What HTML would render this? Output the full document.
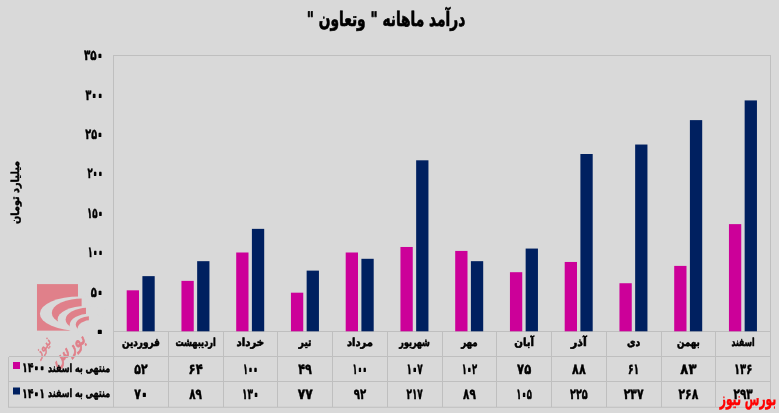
<!DOCTYPE html>
<html lang="fa"><head><meta charset="utf-8"><title>chart</title>
<style>html,body{margin:0;padding:0;background:#d9d9d9;overflow:hidden}svg{display:block;will-change:transform}text{text-rendering:geometricPrecision}</style></head>
<body>
<svg width="779" height="413" viewBox="0 0 779 413" font-family='"DejaVu Sans", "Liberation Sans", sans-serif' font-weight="bold" fill="#000">
<rect width="779" height="413" fill="#d9d9d9"/>
<g transform="translate(30,278) scale(0.14541)">
<rect x="48" y="42" width="282" height="320" fill="#e0808a"/>
<ellipse cx="340" cy="245" rx="272" ry="118" fill="#d9d9d9"/>
<clipPath id="c1"><rect x="0" y="0" width="355" height="500"/></clipPath>
<clipPath id="c2"><rect x="0" y="0" width="385" height="500"/></clipPath>
<clipPath id="c3"><rect x="0" y="0" width="405" height="500"/></clipPath>
<ellipse cx="370" cy="240" rx="220" ry="100" fill="#e0808a" clip-path="url(#c1)"/>
<ellipse cx="385" cy="285" rx="195" ry="92" fill="#d9d9d9"/>
<ellipse cx="400" cy="285" rx="155" ry="80" fill="#e0808a" clip-path="url(#c2)"/>
<ellipse cx="410" cy="325" rx="137" ry="80" fill="#d9d9d9"/>
<ellipse cx="420" cy="320" rx="105" ry="58" fill="#e0808a" clip-path="url(#c3)"/>
<ellipse cx="425" cy="345" rx="97" ry="56" fill="#d9d9d9"/>
</g>
<text transform="translate(71,354) rotate(-40) skewX(-15) scale(1,1.25)" font-size="16" font-weight="normal" text-anchor="middle" direction="rtl" fill="#e0808a" stroke="#e0808a" stroke-width="0.7">بورس</text>
<text transform="translate(45.5,350) rotate(-52) skewX(-15)" font-size="13" font-weight="normal" text-anchor="middle" direction="rtl" fill="#e0808a" stroke="#e0808a" stroke-width="0.4">نیوز</text>
<g stroke="#bfbfbf" stroke-width="1" fill="none" shape-rendering="crispEdges">
<path d="M113.5 407.25 V55.5 H770.5 V407.25"/>
<path d="M113.5 331.5 H770.5"/>
<path d="M8.5 356.5 H770.5 M8.5 381.5 H770.5 M8.5 356.5 V407.25"/>
<path d="M168.25 331.5 V407.25"/>
<path d="M223.00 331.5 V407.25"/>
<path d="M277.75 331.5 V407.25"/>
<path d="M332.50 331.5 V407.25"/>
<path d="M387.25 331.5 V407.25"/>
<path d="M442.00 331.5 V407.25"/>
<path d="M496.75 331.5 V407.25"/>
<path d="M551.50 331.5 V407.25"/>
<path d="M606.25 331.5 V407.25"/>
<path d="M661.00 331.5 V407.25"/>
<path d="M715.75 331.5 V407.25"/>
</g>
<path d="M8.0 407.25 H771.0" stroke="#bfbfbf" stroke-width="1" fill="none"/>
<rect x="126.70" y="290.32" width="12.30" height="40.98" fill="#cc0099"/>
<rect x="142.40" y="276.14" width="12.30" height="55.16" fill="#002060"/>
<rect x="181.45" y="280.87" width="12.30" height="50.43" fill="#cc0099"/>
<rect x="197.15" y="261.17" width="12.30" height="70.13" fill="#002060"/>
<rect x="236.20" y="252.50" width="12.30" height="78.80" fill="#cc0099"/>
<rect x="251.90" y="228.86" width="12.30" height="102.44" fill="#002060"/>
<rect x="290.95" y="292.69" width="12.30" height="38.61" fill="#cc0099"/>
<rect x="306.65" y="270.62" width="12.30" height="60.68" fill="#002060"/>
<rect x="345.70" y="252.50" width="12.30" height="78.80" fill="#cc0099"/>
<rect x="361.40" y="258.80" width="12.30" height="72.50" fill="#002060"/>
<rect x="400.45" y="246.98" width="12.30" height="84.32" fill="#cc0099"/>
<rect x="416.15" y="160.30" width="12.30" height="171.00" fill="#002060"/>
<rect x="455.20" y="250.92" width="12.30" height="80.38" fill="#cc0099"/>
<rect x="470.90" y="261.17" width="12.30" height="70.13" fill="#002060"/>
<rect x="509.95" y="272.20" width="12.30" height="59.10" fill="#cc0099"/>
<rect x="525.65" y="248.56" width="12.30" height="82.74" fill="#002060"/>
<rect x="564.70" y="261.96" width="12.30" height="69.34" fill="#cc0099"/>
<rect x="580.40" y="154.00" width="12.30" height="177.30" fill="#002060"/>
<rect x="619.45" y="283.23" width="12.30" height="48.07" fill="#cc0099"/>
<rect x="635.15" y="144.54" width="12.30" height="186.76" fill="#002060"/>
<rect x="674.20" y="265.90" width="12.30" height="65.40" fill="#cc0099"/>
<rect x="689.90" y="120.12" width="12.30" height="211.18" fill="#002060"/>
<rect x="728.95" y="224.13" width="12.30" height="107.17" fill="#cc0099"/>
<rect x="744.65" y="100.42" width="12.30" height="230.88" fill="#002060"/>
<text transform="translate(99.80,336.20) scale(0.9716,1)" font-size="14.5" text-anchor="middle" fill="#000" stroke="#000" stroke-width="0.45" stroke-linejoin="round"><tspan stroke-width="1.7">۰</tspan></text>
<text transform="translate(96.90,296.50) scale(0.6892,1)" font-size="14.5" text-anchor="middle" fill="#000" stroke="#000" stroke-width="0.45" stroke-linejoin="round">۵<tspan stroke-width="1.7">۰</tspan></text>
<text transform="translate(95.40,257.10) scale(0.5725,1)" font-size="14.5" text-anchor="middle" fill="#000" stroke="#000" stroke-width="0.45" stroke-linejoin="round">۱<tspan stroke-width="1.7">۰۰</tspan></text>
<text transform="translate(95.00,217.70) scale(0.6026,1)" font-size="14.5" text-anchor="middle" fill="#000" stroke="#000" stroke-width="0.45" stroke-linejoin="round">۱۵<tspan stroke-width="1.7">۰</tspan></text>
<text transform="translate(95.20,178.30) scale(0.5876,1)" font-size="14.5" text-anchor="middle" fill="#000" stroke="#000" stroke-width="0.45" stroke-linejoin="round">۲<tspan stroke-width="1.7">۰۰</tspan></text>
<text transform="translate(94.15,138.90) scale(0.6666,1)" font-size="14.5" text-anchor="middle" fill="#000" stroke="#000" stroke-width="0.45" stroke-linejoin="round">۲۵<tspan stroke-width="1.7">۰</tspan></text>
<text transform="translate(94.25,99.50) scale(0.6591,1)" font-size="14.5" text-anchor="middle" fill="#000" stroke="#000" stroke-width="0.45" stroke-linejoin="round">۳<tspan stroke-width="1.7">۰۰</tspan></text>
<text transform="translate(93.50,60.10) scale(0.7156,1)" font-size="14.5" text-anchor="middle" fill="#000" stroke="#000" stroke-width="0.45" stroke-linejoin="round">۳۵<tspan stroke-width="1.7">۰</tspan></text>
<text transform="translate(386.00,25.60) scale(0.6875,1)" font-size="20" text-anchor="middle" fill="#000" stroke="#000" stroke-width="0.7" stroke-linejoin="round" direction="rtl">درآمد ماهانه " وتعاون "</text>
<text transform="translate(18.60,192.40) rotate(-90) scale(0.8802,1)" font-size="11" text-anchor="middle" fill="#000" stroke="#000" stroke-width="0.45" stroke-linejoin="round" direction="rtl">میلیارد تومان</text>
<text transform="translate(140.88,346.40) scale(0.8104,1)" font-size="11" text-anchor="middle" fill="#000" stroke="#000" stroke-width="0.6" stroke-linejoin="round" direction="rtl">فروردین</text>
<text transform="translate(195.62,346.40) scale(0.7417,1)" font-size="11" text-anchor="middle" fill="#000" stroke="#000" stroke-width="0.6" stroke-linejoin="round" direction="rtl">اردیبهشت</text>
<text transform="translate(250.38,346.40) scale(0.9285,1)" font-size="11" text-anchor="middle" fill="#000" stroke="#000" stroke-width="0.6" stroke-linejoin="round" direction="rtl">خرداد</text>
<text transform="translate(305.12,346.40) scale(0.8213,1)" font-size="11" text-anchor="middle" fill="#000" stroke="#000" stroke-width="0.6" stroke-linejoin="round" direction="rtl">تیر</text>
<text transform="translate(359.88,346.40) scale(0.9054,1)" font-size="11" text-anchor="middle" fill="#000" stroke="#000" stroke-width="0.6" stroke-linejoin="round" direction="rtl">مرداد</text>
<text transform="translate(414.62,346.40) scale(0.7214,1)" font-size="11" text-anchor="middle" fill="#000" stroke="#000" stroke-width="0.6" stroke-linejoin="round" direction="rtl">شهریور</text>
<text transform="translate(469.38,346.40) scale(0.7841,1)" font-size="11" text-anchor="middle" fill="#000" stroke="#000" stroke-width="0.6" stroke-linejoin="round" direction="rtl">مهر</text>
<text transform="translate(524.12,346.40) scale(0.9243,1)" font-size="11" text-anchor="middle" fill="#000" stroke="#000" stroke-width="0.6" stroke-linejoin="round" direction="rtl">آبان</text>
<text transform="translate(578.88,346.40) scale(1.0032,1)" font-size="11" text-anchor="middle" fill="#000" stroke="#000" stroke-width="0.6" stroke-linejoin="round" direction="rtl">آذر</text>
<text transform="translate(633.62,346.40) scale(0.8393,1)" font-size="11" text-anchor="middle" fill="#000" stroke="#000" stroke-width="0.6" stroke-linejoin="round" direction="rtl">دی</text>
<text transform="translate(688.38,346.40) scale(0.7884,1)" font-size="11" text-anchor="middle" fill="#000" stroke="#000" stroke-width="0.6" stroke-linejoin="round" direction="rtl">بهمن</text>
<text transform="translate(743.12,346.40) scale(0.6956,1)" font-size="11" text-anchor="middle" fill="#000" stroke="#000" stroke-width="0.6" stroke-linejoin="round" direction="rtl">اسفند</text>
<text transform="translate(140.88,373.80) scale(0.7514,1)" font-size="14.5" text-anchor="middle" fill="#000" stroke="#000" stroke-width="0.45" stroke-linejoin="round">۵۲</text>
<text transform="translate(140.88,398.60) scale(0.7514,1)" font-size="14.5" text-anchor="middle" fill="#000" stroke="#000" stroke-width="0.45" stroke-linejoin="round">۷<tspan stroke-width="1.7">۰</tspan></text>
<text transform="translate(195.62,373.80) scale(0.7966,1)" font-size="14.5" text-anchor="middle" fill="#000" stroke="#000" stroke-width="0.45" stroke-linejoin="round">۶۴</text>
<text transform="translate(195.62,398.60) scale(0.7175,1)" font-size="14.5" text-anchor="middle" fill="#000" stroke="#000" stroke-width="0.45" stroke-linejoin="round">۸۹</text>
<text transform="translate(250.38,373.80) scale(0.5650,1)" font-size="14.5" text-anchor="middle" fill="#000" stroke="#000" stroke-width="0.45" stroke-linejoin="round">۱<tspan stroke-width="1.7">۰۰</tspan></text>
<text transform="translate(250.38,398.60) scale(0.6290,1)" font-size="14.5" text-anchor="middle" fill="#000" stroke="#000" stroke-width="0.45" stroke-linejoin="round">۱۳<tspan stroke-width="1.7">۰</tspan></text>
<text transform="translate(305.12,373.80) scale(0.7683,1)" font-size="14.5" text-anchor="middle" fill="#000" stroke="#000" stroke-width="0.45" stroke-linejoin="round">۴۹</text>
<text transform="translate(305.12,398.60) scale(0.8474,1)" font-size="14.5" text-anchor="middle" fill="#000" stroke="#000" stroke-width="0.45" stroke-linejoin="round">۷۷</text>
<text transform="translate(359.88,373.80) scale(0.5537,1)" font-size="14.5" text-anchor="middle" fill="#000" stroke="#000" stroke-width="0.45" stroke-linejoin="round">۱<tspan stroke-width="1.7">۰۰</tspan></text>
<text transform="translate(359.88,398.60) scale(0.7005,1)" font-size="14.5" text-anchor="middle" fill="#000" stroke="#000" stroke-width="0.45" stroke-linejoin="round">۹۲</text>
<text transform="translate(414.62,373.80) scale(0.6177,1)" font-size="14.5" text-anchor="middle" fill="#000" stroke="#000" stroke-width="0.45" stroke-linejoin="round">۱<tspan stroke-width="1.7">۰</tspan>۷</text>
<text transform="translate(414.62,398.60) scale(0.6177,1)" font-size="14.5" text-anchor="middle" fill="#000" stroke="#000" stroke-width="0.45" stroke-linejoin="round">۲۱۷</text>
<text transform="translate(469.38,373.80) scale(0.5838,1)" font-size="14.5" text-anchor="middle" fill="#000" stroke="#000" stroke-width="0.45" stroke-linejoin="round">۱<tspan stroke-width="1.7">۰</tspan>۲</text>
<text transform="translate(469.38,398.60) scale(0.7175,1)" font-size="14.5" text-anchor="middle" fill="#000" stroke="#000" stroke-width="0.45" stroke-linejoin="round">۸۹</text>
<text transform="translate(524.12,373.80) scale(0.7966,1)" font-size="14.5" text-anchor="middle" fill="#000" stroke="#000" stroke-width="0.45" stroke-linejoin="round">۷۵</text>
<text transform="translate(524.12,398.60) scale(0.5838,1)" font-size="14.5" text-anchor="middle" fill="#000" stroke="#000" stroke-width="0.45" stroke-linejoin="round">۱<tspan stroke-width="1.7">۰</tspan>۵</text>
<text transform="translate(578.88,373.80) scale(0.7683,1)" font-size="14.5" text-anchor="middle" fill="#000" stroke="#000" stroke-width="0.45" stroke-linejoin="round">۸۸</text>
<text transform="translate(578.88,398.60) scale(0.6704,1)" font-size="14.5" text-anchor="middle" fill="#000" stroke="#000" stroke-width="0.45" stroke-linejoin="round">۲۲۵</text>
<text transform="translate(633.62,373.80) scale(0.6384,1)" font-size="14.5" text-anchor="middle" fill="#000" stroke="#000" stroke-width="0.45" stroke-linejoin="round">۶۱</text>
<text transform="translate(633.62,398.60) scale(0.7457,1)" font-size="14.5" text-anchor="middle" fill="#000" stroke="#000" stroke-width="0.45" stroke-linejoin="round">۲۳۷</text>
<text transform="translate(688.38,373.80) scale(0.9095,1)" font-size="14.5" text-anchor="middle" fill="#000" stroke="#000" stroke-width="0.45" stroke-linejoin="round">۸۳</text>
<text transform="translate(688.38,398.60) scale(0.7457,1)" font-size="14.5" text-anchor="middle" fill="#000" stroke="#000" stroke-width="0.45" stroke-linejoin="round">۲۶۸</text>
<text transform="translate(743.12,373.80) scale(0.6930,1)" font-size="14.5" text-anchor="middle" fill="#000" stroke="#000" stroke-width="0.45" stroke-linejoin="round">۱۳۶</text>
<text transform="translate(743.12,398.60) scale(0.7231,1)" font-size="14.5" text-anchor="middle" fill="#000" stroke="#000" stroke-width="0.45" stroke-linejoin="round">۲۹۳</text>
<rect x="13" y="362" width="7" height="7" fill="#cc0099"/>
<rect x="13" y="387.5" width="7" height="7" fill="#002060"/>
<text transform="translate(79.10,372.00) scale(0.7020,1)" font-size="11.3" text-anchor="middle" fill="#000" stroke="#000" stroke-width="0.55" stroke-linejoin="round" direction="rtl">منتهی به اسفند</text>
<text transform="translate(79.10,397.30) scale(0.7020,1)" font-size="11.3" text-anchor="middle" fill="#000" stroke="#000" stroke-width="0.55" stroke-linejoin="round" direction="rtl">منتهی به اسفند</text>
<text transform="translate(33.60,372.40) scale(0.6927,1)" font-size="13.6" text-anchor="middle" fill="#000" stroke="#000" stroke-width="0.45" stroke-linejoin="round">۱۴<tspan stroke-width="1.7">۰۰</tspan></text>
<text transform="translate(33.60,397.70) scale(0.6927,1)" font-size="13.6" text-anchor="middle" fill="#000" stroke="#000" stroke-width="0.45" stroke-linejoin="round">۱۴<tspan stroke-width="1.7">۰</tspan>۱</text>
<text transform="translate(748.00,404.60) scale(0.5834,1)" font-size="18.3" text-anchor="middle" fill="#ff0000" stroke="#ff0000" stroke-width="0.45" stroke-linejoin="round" direction="rtl">بورس نیوز</text>
</svg>
</body></html>
